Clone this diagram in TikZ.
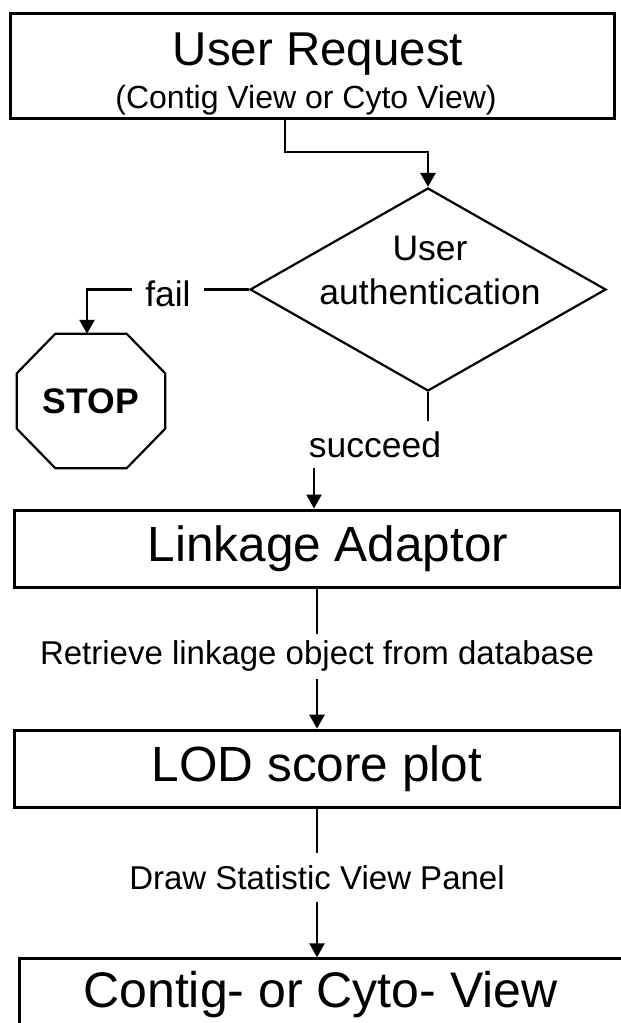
\documentclass[tikz,border=0pt]{standalone}
\usepackage{fontspec}
\setmainfont{Liberation Sans}
\usetikzlibrary{positioning,shapes.geometric,arrows.meta}

\tikzset{
  box/.style={draw, rectangle, line width=3pt, inner sep=0pt, minimum width=606pt, minimum height=77pt, font=\fontsize{49.5}{58}\selectfont},
  lbl/.style={font=\fontsize{33}{40}\selectfont},
  midlbl/.style={font=\fontsize{35.5}{44}\selectfont},
  conn/.style={line width=2.6pt},
  arr/.style={line width=2.6pt, ->},
}

\begin{document}
\begin{tikzpicture}[x=1pt, y=1pt, >={Triangle[length=14pt,width=15pt]}]
  \useasboundingbox (0,0) rectangle (621,-1023);

  % request
  \node (req) [box, minimum width=604pt, minimum height=105pt] at (312,-65.5) {};
  \node (reqtitle) [anchor=base, font=\fontsize{47.5}{56}\selectfont] at (318,-65) {User Request};
  \node (reqsub) [anchor=base, font=\fontsize{32}{38}\selectfont] at (306,-108) {(Contig View or Cyto View)};
  \coordinate (bend) at (285,-152);

  % authentication
  \node (dec) [diamond, draw, line width=2.2pt, inner sep=0pt, minimum width=356pt, minimum height=203pt] at (428,-289.5) {};
  \node (dectxt) [midlbl, align=center] at (430,-270) {User\\authentication};
  \node (stop) [rectangle, inner sep=0pt, minimum width=148pt, minimum height=134pt, font=\bfseries\fontsize{35.5}{42}\selectfont] at (91,-401) {STOP};
  \draw[line width=2.2pt] ([xshift=38.5pt]stop.north west) -- ([xshift=-38.5pt]stop.north east)
    -- ([yshift=-39.5pt]stop.north east) -- ([yshift=39.5pt]stop.south east)
    -- ([xshift=-38.5pt]stop.south east) -- ([xshift=38.5pt]stop.south west)
    -- ([yshift=39.5pt]stop.south west) -- ([yshift=-39.5pt]stop.north west) -- cycle;
  \node (succ) [midlbl, anchor=base, inner sep=10pt] at (375,-457) {succeed};

  % main column
  \node (lad) [box] at (317,-548.5) {\hspace*{22pt}Linkage Adaptor};
  \node (ret) [lbl, inner sep=7pt, below=45pt of lad] {Retrieve linkage object from database};
  \node (lod) [box, below=50pt of ret] {LOD score plot};
  \node (drw) [lbl, inner sep=12.5pt, below=44pt of lod] {Draw Statistic View Panel};
  \node (cv) [box, font=\fontsize{50}{60}\selectfont, minimum width=603pt, minimum height=71pt, below=55pt of drw, xshift=3.5pt] {Contig- or Cyto- View};

  \draw[arr] (req.south -| bend) -- (bend) -| (dec.north);
  \draw[arr] (dec.west) -| node[midlbl, pos=.25, fill=white, inner xsep=13pt, yshift=-4pt] {fail} ([xshift=-4pt]stop.north);
  \draw[conn] (dec.south) -- (dec.south |- succ.north);
  \draw[arr] ([xshift=-3pt]succ.south -| lad.north) -- ([xshift=-3pt]lad.north);
  \draw[conn] (lad) -- (ret);
  \draw[arr] (ret) -- (lod);
  \draw[conn] (lod) -- (drw);
  \draw[arr] (drw.south) -- (drw.south |- cv.north);
\end{tikzpicture}
\end{document}
